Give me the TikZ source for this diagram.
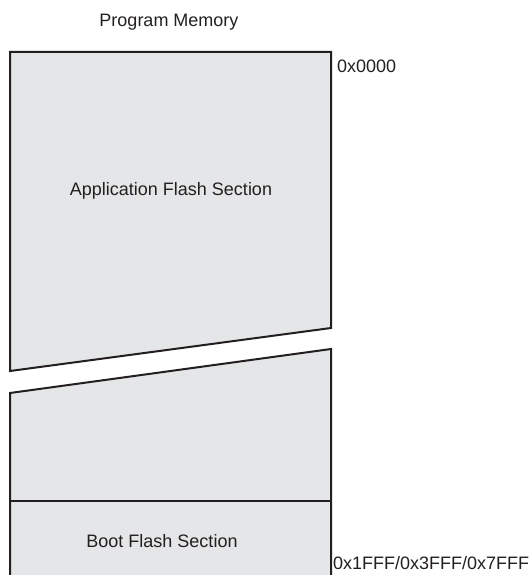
\documentclass[tikz,border=0pt]{standalone}
\usepackage{fontspec}
\setmainfont{Liberation Sans}
\begin{document}
\begin{tikzpicture}[x=1pt,y=-1pt,
  mem/.style={fill=memfill,draw=memline,line width=2pt,line join=miter},
  lbl/.style={font=\fontsize{18}{21}\selectfont,text=memtext,inner sep=0pt}]
\definecolor{memfill}{HTML}{E5E6E7}
\definecolor{memline}{HTML}{231F20}
\definecolor{memtext}{HTML}{231F20}
\useasboundingbox (0,0) rectangle (532,575);
\path[mem] (10,52) -- (331,52) -- (331,328) -- (10,371) -- cycle;
\path[mem] (10,393) -- (331,349) -- (331,580) -- (10,580) -- cycle;
\draw[memline,line width=2pt] (10,501) -- (331,501);
\node[lbl] (title) at (169,22) {Program Memory};
\node[lbl] (app) at (171,191) {Application Flash Section};
\node[lbl] (boot) at (162,541) {Boot Flash Section};
\node[lbl,anchor=west] (a0) at (337,66) {0x0000};
\node[lbl,anchor=west] (a1) at (333,563) {0x1FFF/0x3FFF/0x7FFF};
\end{tikzpicture}
\end{document}
